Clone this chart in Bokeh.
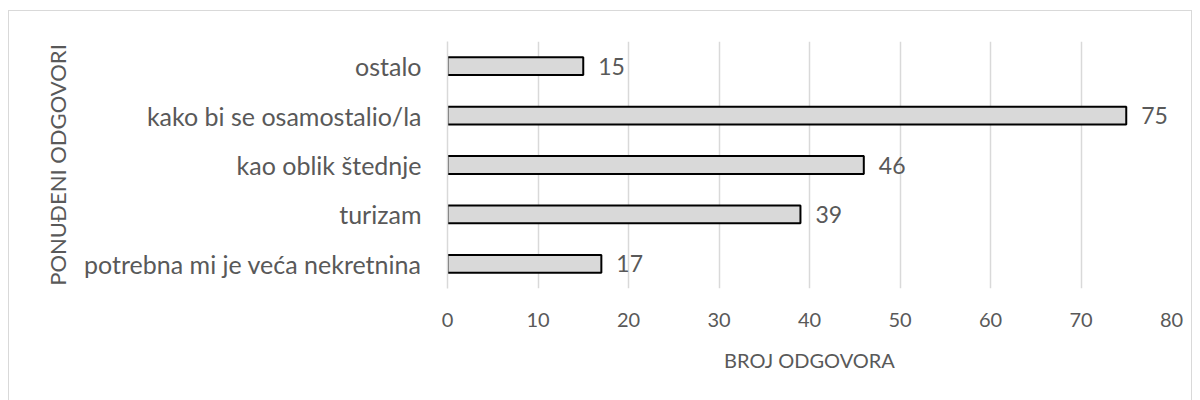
from bokeh.plotting import figure
from bokeh.models import FactorRange, Range1d, ColumnDataSource, FixedTicker, LabelSet
from bokeh.core.properties import value
from bokeh.embed import file_html
from bokeh.resources import INLINE

categories = ["potrebna mi je veća nekretnina", "turizam", "kao oblik štednje",
              "kako bi se osamostalio/la", "ostalo"]
counts = [17, 39, 46, 75, 15]
x_ticks = [0, 10, 20, 30, 40, 50, 60, 70, 80]
x_title = "BROJ ODGOVORA"
y_title = "PONUĐENI ODGOVORI"

FONT = "Lato"
TXT = "#595959"

src = ColumnDataSource(dict(cat=categories, val=counts, lab=[str(v) for v in counts]))

p = figure(y_range=FactorRange(*categories), x_range=Range1d(0, 80),
           width=1184, height=400, output_backend="svg", toolbar_location=None,
           min_border_left=438, min_border_right=22, min_border_top=30, min_border_bottom=123,
           styles={"margin-top": "10px", "margin-left": "8px", "border": "1px solid #d9d9d9"})
p.outline_line_color = None
p.background_fill_color = "white"
p.border_fill_color = "white"

p.hbar(y="cat", right="val", left=0, height=0.36, source=src,
       fill_color="#d9d9d9", line_color="black", line_width=2)

labels = LabelSet(x="val", y="cat", text="lab", source=src, x_offset=15,
                  text_baseline="middle", text_font=value(FONT), text_font_size="23px",
                  text_color=TXT)
p.add_layout(labels)

p.xaxis.ticker = FixedTicker(ticks=x_ticks)
p.xaxis.axis_line_color = None
p.xaxis.major_tick_line_color = None
p.xaxis.minor_tick_line_color = None
p.xaxis.major_label_standoff = 18
p.xaxis.major_label_text_font = FONT
p.xaxis.major_label_text_font_size = "20px"
p.xaxis.major_label_text_color = TXT
p.xaxis.axis_label = x_title
p.xaxis.axis_label_text_font = FONT
p.xaxis.axis_label_text_font_style = "normal"
p.xaxis.axis_label_text_font_size = "20px"
p.xaxis.axis_label_text_color = TXT
p.xaxis.axis_label_standoff = 18

p.yaxis.axis_line_color = "#d9d9d9"
p.yaxis.axis_line_width = 1.5
p.yaxis.major_tick_line_color = None
p.yaxis.minor_tick_line_color = None
p.yaxis.major_label_standoff = 20
p.yaxis.major_label_text_font = FONT
p.yaxis.major_label_text_font_size = "25px"
p.yaxis.major_label_text_color = TXT
p.yaxis.axis_label = y_title
p.yaxis.axis_label_text_font = FONT
p.yaxis.axis_label_text_font_style = "normal"
p.yaxis.axis_label_text_font_size = "22px"
p.yaxis.axis_label_text_color = TXT
p.yaxis.axis_label_standoff = 10

p.xgrid.grid_line_color = "#d9d9d9"
p.xgrid.grid_line_width = 1.5
p.ygrid.grid_line_color = None

open("out.html", "w").write(file_html(p, INLINE))
